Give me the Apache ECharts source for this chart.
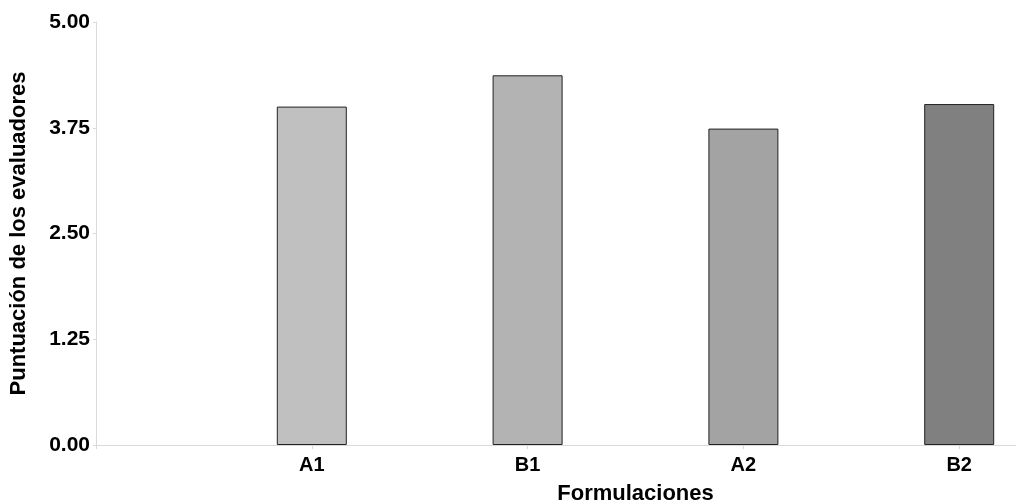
<!DOCTYPE html>
<html><head><meta charset="utf-8">
<script src="https://cdn.jsdelivr.net/npm/echarts@6/dist/echarts.min.js"></script>
<style>html,body{margin:0;padding:0;background:#fff}#c{width:1016px;height:503px}</style>
</head><body><div id="c"></div>
<script>
const categories = ['', 'A1', 'B1', 'A2', 'B2', ''];
const values = [null, 4.00, 4.37, 3.74, 4.03, null];
const barColors = ['#ffffff', '#c0c0c0', '#b3b3b3', '#a3a3a3', '#808080', '#ffffff'];
const yTicks = { min: 0, max: 5, interval: 1.25 };
const xTitle = 'Formulaciones';
const yTitle = 'Puntuación de los evaluadores';

const chart = echarts.init(document.getElementById('c'));
const font = 'Liberation Sans, Arial, sans-serif';
chart.setOption({
  animation: false,
  backgroundColor: '#fff',
  grid: { left: 96, top: 22, height: 423, width: 1079, containLabel: false, outerBoundsMode: 'none' },
  xAxis: {
    type: 'category', data: categories, boundaryGap: false,
    axisLine: { lineStyle: { color: '#d9d9d9', width: 1 } },
    axisTick: { show: true, length: 4, lineStyle: { color: '#d9d9d9' } },
    axisLabel: { color: '#000', fontWeight: 'bold', fontSize: 20, fontFamily: font, margin: 10 },
    name: xTitle, nameLocation: 'middle', nameGap: 38,
    nameTextStyle: { color: '#000', fontWeight: 'bold', fontSize: 22, fontFamily: font }
  },
  yAxis: {
    type: 'value', min: yTicks.min, max: yTicks.max, interval: yTicks.interval,
    axisLine: { show: true, lineStyle: { color: '#d9d9d9', width: 1 } },
    axisTick: { show: true, length: 3, lineStyle: { color: '#d9d9d9' } },
    splitLine: { show: false },
    axisLabel: { color: '#000', fontWeight: 'bold', fontSize: 21, fontFamily: font, margin: 6,
      formatter: v => v.toFixed(2) },
    name: yTitle, nameLocation: 'middle', nameGap: 66,
    nameTextStyle: { color: '#000', fontWeight: 'bold', fontSize: 22, fontFamily: font }
  },
  series: [{
    type: 'bar', barWidth: 70,
    data: values.map((v, i) => ({ value: v, itemStyle: { color: barColors[i] } })),
    itemStyle: { borderColor: '#222', borderWidth: 1 }
  }]
});
</script></body></html>
